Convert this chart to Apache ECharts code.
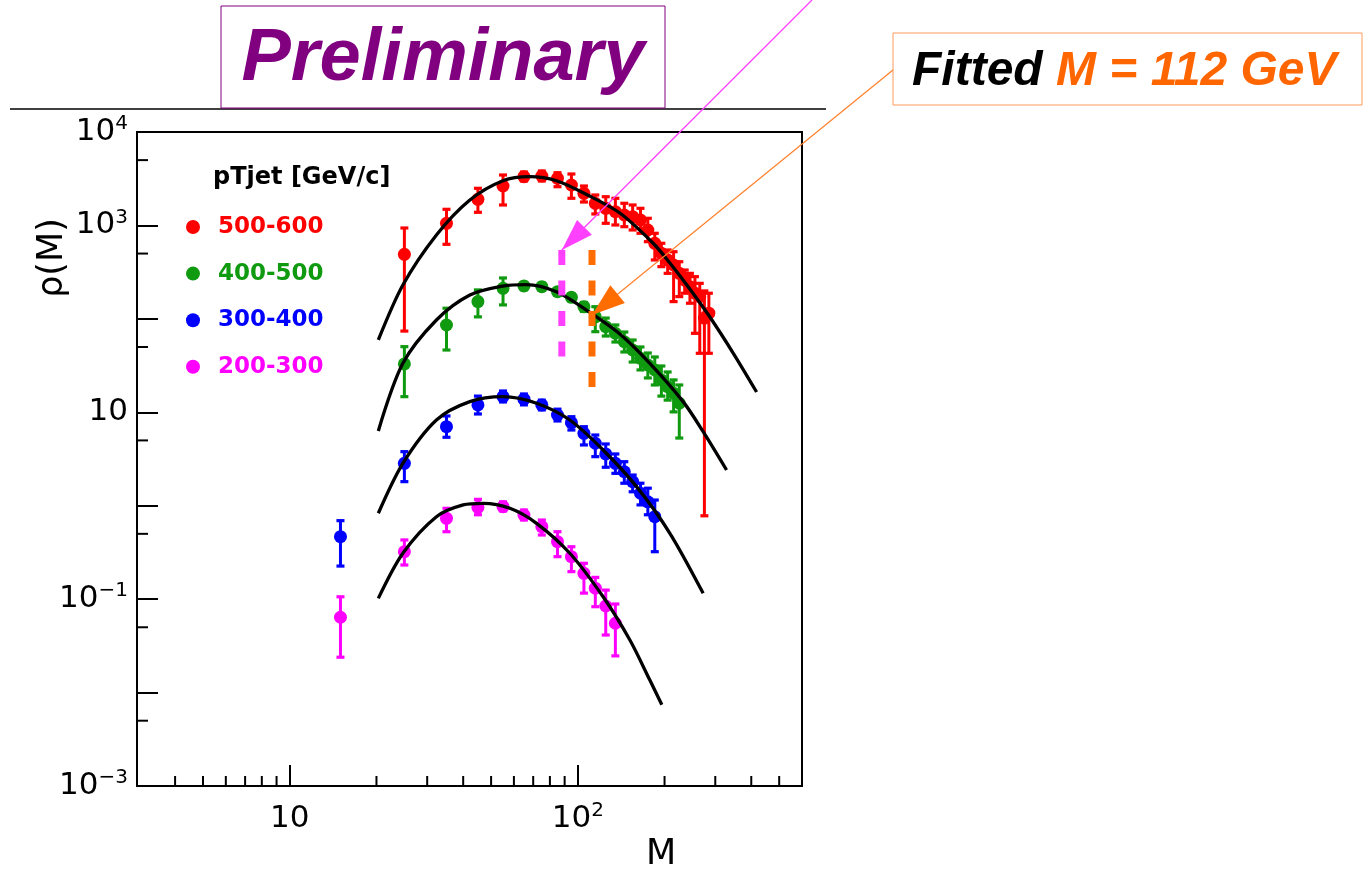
<!DOCTYPE html>
<html>
<head>
<meta charset="utf-8">
<script src="https://cdn.jsdelivr.net/npm/echarts@6/dist/echarts.min.js"></script>
<style>
  html, body { margin: 0; padding: 0; background: #fff; }
  #main { width: 1363px; height: 871px; }
</style>
</head>
<body>
<div id="main"></div>
<script>
// Jet mass density rho(M) in four pT(jet) intervals, with fitted curves.

const ptBins = ['500-600', '400-500', '300-400', '200-300'];
const binColors = ['#ff0000', '#109a10', '#0000ff', '#ff00ff'];

// 500-600 GeV/c
const mass500 = [25, 35, 45, 55, 65, 75, 85, 95, 105, 115, 125, 135, 145, 155, 165, 175, 185, 195, 205, 215, 225, 235, 245, 255, 265, 275, 285];
const rho500  = [491, 1054, 1904, 2642, 3324, 3381, 3194, 2709, 2207, 1726, 1525, 1403, 1293, 1240, 1143, 894, 644, 503, 427, 377, 307, 260, 221, 188, 173, 102, 115];
const lo500   = [74, 628, 1382, 1655, 2989, 2989, 2597, 1952, 1781, 1326, 1054, 1011, 969, 894, 824, 670, 427, 362, 307, 153, 173, 188, 147, 70, 42.8, 0.78, 42.8];
const hi500   = [939, 1488, 2497, 3466, 3732, 3825, 3667, 3552, 2642, 2117, 2030, 1952, 1726, 1655, 1525, 1192, 824, 644, 546, 523, 409, 333, 307, 283, 240, 199, 188];

// 400-500 GeV/c
const mass400 = [25, 35, 45, 55, 65, 75, 85, 95, 105, 115, 125, 135, 145, 155, 165, 175, 185, 195, 205, 215, 225];
const rho400  = [32.9, 86, 153, 212, 225, 221, 195, 170, 135, 105, 82.4, 70.1, 56.9, 46.4, 37.8, 32.1, 28.4, 22.2, 18.8, 16, 12.5];
const lo400   = [14.7, 46.4, 105, 141, 205, 202, 178, 155, 120, 72.9, 65.5, 56.5, 44.2, 34.5, 28.4, 23.3, 19.6, 14.9, 13.5, 10.1, 5.3];
const hi400   = [50.4, 130, 204, 274, 245, 241, 213, 186, 150, 135, 102, 86, 72.3, 59.4, 50, 43.1, 39.1, 31.3, 27, 22.2, 19.6];

// 300-400 GeV/c
const mass300 = [15, 25, 35, 45, 55, 65, 75, 85, 95, 105, 115, 125, 135, 145, 155, 165, 175, 185];
const rho300  = [0.466, 2.84, 7.01, 12.0, 14.7, 13.8, 12.0, 9.35, 7.74, 5.96, 4.66, 3.58, 2.84, 2.31, 1.81, 1.36, 1.10, 0.763];
const lo300   = [0.226, 1.81, 5.40, 9.59, 12.9, 12.0, 10.6, 8.07, 6.46, 4.47, 3.35, 2.58, 2.22, 1.74, 1.41, 1.02, 0.80, 0.322];
const hi300   = [0.692, 3.79, 9.13, 14.9, 16.9, 15.7, 13.5, 10.8, 8.97, 7.01, 5.71, 4.58, 3.58, 2.96, 2.13, 1.74, 1.54, 1.15];

// 200-300 GeV/c
const mass200 = [15, 25, 35, 45, 55, 65, 75, 85, 95, 105, 115, 125, 135];
const rho200  = [0.064, 0.322, 0.733, 0.962, 0.976, 0.796, 0.596, 0.412, 0.285, 0.189, 0.131, 0.0845, 0.0552];
const lo200   = [0.0239, 0.232, 0.527, 0.80, 0.878, 0.703, 0.486, 0.285, 0.197, 0.116, 0.083, 0.0413, 0.0247];
const hi200   = [0.106, 0.430, 0.938, 1.17, 1.10, 0.90, 0.703, 0.527, 0.364, 0.242, 0.171, 0.125, 0.0887];

// fitted curves
const fitMass500 = [20.3, 24.7, 32.3, 42.2, 55.0, 68.1, 84.3, 107.2, 139.9, 182.6, 208.7, 244.8, 287.3, 346.1, 417.4];
const fitRho500  = [59.4, 230, 790, 1872, 3011, 3324, 3011, 2143, 1358, 644, 396, 209, 104.7, 43.1, 16.5];
const fitMass400 = [20.3, 24.7, 32.3, 42.2, 55.0, 66.3, 84.3, 107.2, 139.9, 177.8, 232, 272.3, 328.3];
const fitRho400  = [6.31, 33.4, 97.2, 180, 224.7, 233, 195, 124, 68.9, 33.4, 13.0, 6.2, 2.41];
const fitMass300 = [20.3, 24.7, 32.3, 42.2, 55.0, 71.9, 93.8, 122.4, 159.9, 208.7, 272.3];
const fitRho300  = [0.83, 2.84, 8.27, 13.0, 14.7, 12.5, 8.27, 3.95, 1.60, 0.507, 0.1155];
const fitMass200 = [20.3, 24.7, 32.3, 40.0, 46.9, 58.1, 71.9, 93.8, 122.4, 151.6, 177.8, 195.7];
const fitRho200  = [0.102, 0.31, 0.763, 1.02, 1.06, 0.938, 0.648, 0.31, 0.106, 0.0365, 0.0136, 0.0074];

// axis ticks
const xMinorTicks = [4, 5, 6, 7, 8, 9, 20, 30, 40, 50, 60, 70, 80, 90, 200, 300, 400, 500];
const yMinorTicks = [5000, 500, 50, 5, 0.5, 0.05, 0.005];
const xLabelledDecades = [1, 2];
const yLabelledDecades = [4, 3, 1, -1, -3];

// markers for the mass values
const pinkMarkMass = 88;
const fittedMass = 112;
const markTop = 546;
const pinkMarkBottom = 39;
const fittedMarkBottom = 18.6;
const fittedArrowRho = 110;

const X_MIN = 2.95, X_MAX = 600, Y_MIN = 0.001, Y_MAX = 10000;
const AXIS_FONT = 'DejaVu Sans';

const groups = [
  { mass: mass500, rho: rho500, lo: lo500, hi: hi500, fm: fitMass500, fr: fitRho500 },
  { mass: mass400, rho: rho400, lo: lo400, hi: hi400, fm: fitMass400, fr: fitRho400 },
  { mass: mass300, rho: rho300, lo: lo300, hi: hi300, fm: fitMass300, fr: fitRho300 },
  { mass: mass200, rho: rho200, lo: lo200, hi: hi200, fm: fitMass200, fr: fitRho200 }
];

function zip(a, b) { return a.map((v, i) => [v, b[i]]); }

function decadeFormatter(shown) {
  return function (v) {
    const lg = Math.log10(v);
    const e = Math.round(lg);
    if (Math.abs(lg - e) > 1e-6 || shown.indexOf(e) < 0) return '';
    if (e === 1) return '{b|10}';
    return '{b|10}{s|' + String(e).replace('-', '\u2212') + '}';
  };
}

const labelRich = {
  b: { fontFamily: AXIS_FONT, fontSize: 31, color: '#000', lineHeight: 36 },
  s: { fontFamily: AXIS_FONT, fontSize: 20, color: '#000', lineHeight: 18, verticalAlign: 'top' }
};

function errorBarRender(color) {
  return function (params, api) {
    const x = api.value(0);
    const a = api.coord([x, api.value(1)]);
    const b = api.coord([x, api.value(2)]);
    const cap = 4;
    return {
      type: 'group',
      children: [
        { type: 'line', shape: { x1: a[0], y1: a[1], x2: b[0], y2: b[1] }, style: { stroke: color, lineWidth: 3 } },
        { type: 'line', shape: { x1: a[0] - cap, y1: a[1], x2: a[0] + cap, y2: a[1] }, style: { stroke: color, lineWidth: 3.2 } },
        { type: 'line', shape: { x1: b[0] - cap, y1: b[1], x2: b[0] + cap, y2: b[1] }, style: { stroke: color, lineWidth: 3.2 } }
      ]
    };
  };
}

const series = [];
groups.forEach((g, i) => {
  series.push({
    name: ptBins[i], type: 'scatter', z: 3, symbol: 'circle', symbolSize: 13,
    itemStyle: { color: binColors[i], opacity: 1 },
    data: zip(g.mass, g.rho)
  });
});
groups.forEach((g, i) => {
  series.push({
    name: ptBins[i], type: 'custom', z: 2,
    itemStyle: { color: binColors[i] },
    renderItem: errorBarRender(binColors[i]),
    encode: { x: 0, y: [1, 2] },
    data: g.mass.map((m, k) => [m, g.lo[k], g.hi[k]])
  });
});
groups.forEach((g, i) => {
  series.push({
    name: 'fit ' + ptBins[i], type: 'line', z: 5, smooth: 0.3, showSymbol: false, silent: true,
    lineStyle: { color: '#000', width: 3.3 },
    data: zip(g.fm, g.fr)
  });
});

// dashed vertical markers
series.push({
  name: 'mark pink', type: 'line', z: 6, showSymbol: false, silent: true,
  lineStyle: { color: '#ff40ff', width: 7, type: [15, 15.5], cap: 'butt' },
  data: [[pinkMarkMass, markTop], [pinkMarkMass, pinkMarkBottom]]
});
series.push({
  name: 'mark fitted', type: 'line', z: 6, showSymbol: false, silent: true,
  lineStyle: { color: '#ff6c00', width: 7, type: [15, 15.5], cap: 'butt' },
  data: [[fittedMass, markTop], [fittedMass, fittedMarkBottom]]
});

// minor ticks
series.push({
  name: 'x minor ticks', type: 'custom', z: 7, silent: true,
  renderItem: function (params, api) {
    const p = api.coord([api.value(0), Y_MIN]);
    return { type: 'line', shape: { x1: p[0], y1: p[1], x2: p[0], y2: p[1] - 10 }, style: { stroke: '#000', lineWidth: 2 } };
  },
  encode: { x: 0 },
  data: xMinorTicks.map(v => [v, Y_MIN])
});
series.push({
  name: 'y minor ticks', type: 'custom', z: 7, silent: true,
  renderItem: function (params, api) {
    const p = api.coord([X_MIN, api.value(1)]);
    return { type: 'line', shape: { x1: p[0], y1: p[1], x2: p[0] + 11, y2: p[1] }, style: { stroke: '#000', lineWidth: 2 } };
  },
  encode: { x: 0, y: 1 },
  data: yMinorTicks.map(v => [X_MIN, v])
});

const option = {
  backgroundColor: '#fff',
  animation: false,
  grid: { left: 137, right: 561, top: 132, bottom: 85, show: true, borderColor: '#000', borderWidth: 2, backgroundColor: 'transparent' },
  xAxis: {
    type: 'log', logBase: 10, min: X_MIN, max: X_MAX,
    axisLine: { show: true, lineStyle: { color: '#000', width: 2 } },
    axisTick: { show: true, inside: true, length: 21, lineStyle: { color: '#000', width: 2 } },
    axisLabel: { formatter: decadeFormatter(xLabelledDecades), margin: 15, rich: labelRich },
    splitLine: { show: false }
  },
  yAxis: {
    type: 'log', logBase: 10, min: Y_MIN, max: Y_MAX,
    axisLine: { show: true, lineStyle: { color: '#000', width: 2 } },
    axisTick: { show: true, inside: true, length: 21, lineStyle: { color: '#000', width: 2 } },
    axisLabel: { formatter: decadeFormatter(yLabelledDecades), margin: 9, rich: labelRich },
    splitLine: { show: false }
  },
  legend: {
    orient: 'vertical', left: 181, top: 210, itemGap: 22.6, itemWidth: 14, itemHeight: 14,
    icon: 'circle', selectedMode: false,
    data: ptBins.map((n, i) => ({ name: n, textStyle: { color: binColors[i] }, itemStyle: { color: binColors[i], opacity: 1 } })),
    textStyle: { fontFamily: AXIS_FONT, fontWeight: 'bold', fontSize: 23, lineHeight: 24, padding: [0, 0, 0, 13] }
  },
  series: series
};

const chart = echarts.init(document.getElementById('main'), null, { renderer: 'canvas' });
chart.setOption(option);

// annotations
function arrowHead(from, tip, len, half) {
  const dx = tip[0] - from[0], dy = tip[1] - from[1];
  const l = Math.hypot(dx, dy);
  const ux = dx / l, uy = dy / l;
  const bx = tip[0] - ux * len, by = tip[1] - uy * len;
  return [tip, [bx - uy * half, by + ux * half], [bx + uy * half, by - ux * half]];
}

const pinkTip = chart.convertToPixel({ xAxisIndex: 0, yAxisIndex: 0 }, [pinkMarkMass, markTop]);
const orangeTip = chart.convertToPixel({ xAxisIndex: 0, yAxisIndex: 0 }, [fittedMass, fittedArrowRho]);
const pinkStart = [812, 0];
const orangeStart = [893, 70];

chart.setOption({
  graphic: [
    { type: 'line', z: 50, shape: { x1: 10, y1: 109, x2: 826, y2: 109 }, style: { stroke: '#000', lineWidth: 1.5 } },
    { type: 'rect', z: 50, shape: { x: 221, y: 6, width: 444, height: 102 }, style: { fill: '#fff', stroke: '#800080', lineWidth: 1 } },
    { type: 'text', z: 51, x: 443, y: 60, style: { text: 'Preliminary', font: 'italic bold 74px "Liberation Sans"', fill: '#800080', align: 'center', verticalAlign: 'middle' } },
    { type: 'rect', z: 50, shape: { x: 893, y: 33, width: 469, height: 72 }, style: { fill: '#fff', stroke: '#ff9a5c', lineWidth: 1 } },
    { type: 'text', z: 51, x: 912, y: 72, style: {
        text: '{a|Fitted }{b|M = 112 GeV}', align: 'left', verticalAlign: 'middle',
        font: 'italic bold 48px "Liberation Sans"',
        rich: {
          a: { fill: '#000', font: 'italic bold 48px "Liberation Sans"' },
          b: { fill: '#ff6600', font: 'italic bold 48px "Liberation Sans"' }
        }
    } },
    { type: 'text', z: 51, x: 213, y: 178, style: { text: 'pTjet [GeV/c]', font: 'bold 24px "DejaVu Sans"', fill: '#000', align: 'left', verticalAlign: 'middle' } },
    { type: 'text', z: 51, x: 53, y: 258, rotation: Math.PI / 2, style: { text: '\u03c1(M)', font: '35px "DejaVu Sans"', fill: '#000', align: 'center', verticalAlign: 'middle' } },
    { type: 'text', z: 51, x: 661, y: 855, style: { text: 'M', font: '35px "DejaVu Sans"', fill: '#000', align: 'center', verticalAlign: 'middle' } },
    { type: 'line', z: 60, shape: { x1: pinkStart[0], y1: pinkStart[1], x2: pinkTip[0], y2: pinkTip[1] }, style: { stroke: '#ff40ff', lineWidth: 1.3 } },
    { type: 'polygon', z: 61, shape: { points: arrowHead(pinkStart, pinkTip, 32, 10.5) }, style: { fill: '#ff40ff' } },
    { type: 'line', z: 60, shape: { x1: orangeStart[0], y1: orangeStart[1], x2: orangeTip[0], y2: orangeTip[1] }, style: { stroke: '#ff7f2a', lineWidth: 1.2 } },
    { type: 'polygon', z: 61, shape: { points: arrowHead(orangeStart, orangeTip, 33, 11.5) }, style: { fill: '#ff6c00' } }
  ]
});
</script>
</body>
</html>
